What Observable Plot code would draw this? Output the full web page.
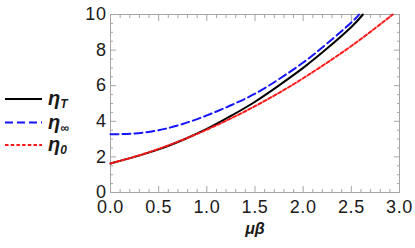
<!DOCTYPE html>
<html><head><meta charset="utf-8">
<script src="https://cdn.jsdelivr.net/npm/d3@7"></script>
<script src="https://cdn.jsdelivr.net/npm/@observablehq/plot@0.6"></script>
<style>
body{margin:0;background:#fff;}
#wrap{position:relative;width:415px;height:248px;overflow:hidden;font-family:"Liberation Sans",Arial,sans-serif;}
#wrap svg{display:block;}
#wrap svg g[aria-label$="axis tick label"] text{letter-spacing:0.6px;}
#legend{position:absolute;left:0;top:0;}
</style></head><body><div id="wrap"></div>
<script>
// series names and styles
const seriesNames = ["ηT", "η∞", "η0"];
const seriesSubs = ["T", "∞", "0"];
const seriesColors = ["#000000", "#1414ff", "#ff1a1a"];
const seriesDash = [null, "8,4", "3.5,2.2"];

// η_T (black, solid)
const muT  = [0, 0.25, 0.5, 0.75, 1.0, 1.25, 1.5, 1.75, 2.0, 2.25, 2.5, 2.62];
const etaT = [1.63, 2.0, 2.42, 2.95, 3.57, 4.3, 5.1, 6.02, 7.0, 8.1, 9.3, 10.0];
// η_∞ (blue, dashed)
const muInf  = [0, 0.25, 0.5, 0.75, 1.0, 1.25, 1.5, 1.75, 2.0, 2.25, 2.5, 2.58];
const etaInf = [3.27, 3.32, 3.5, 3.85, 4.33, 4.9, 5.55, 6.37, 7.3, 8.38, 9.55, 10.0];
// η_0 (red, short dashes)
const mu0  = [0, 0.25, 0.5, 0.75, 1.0, 1.25, 1.5, 1.75, 2.0, 2.25, 2.5, 2.75, 2.93];
const eta0 = [1.63, 2.01, 2.45, 2.96, 3.53, 4.16, 4.85, 5.6, 6.42, 7.3, 8.23, 9.24, 10.0];

// ticks
const xMajor = [0, 0.5, 1.0, 1.5, 2.0, 2.5, 3.0];
const xMinor = [0.1,0.2,0.3,0.4,0.6,0.7,0.8,0.9,1.1,1.2,1.3,1.4,1.6,1.7,1.8,1.9,2.1,2.2,2.3,2.4,2.6,2.7,2.8,2.9];
const yMajor = [0, 2, 4, 6, 8, 10];
const yMinor = [0.5,1,1.5,2.5,3,3.5,4.5,5,5.5,6.5,7,7.5,8.5,9,9.5];
const xLabel = "μβ";

const mus = [muT, muInf, mu0];
const etas = [etaT, etaInf, eta0];

const tickColor = "#a6a6a6";
const blank = () => "";

const lineMarks = mus.map((m, s) => Plot.line(
  m.map((x, i) => ({mu: x, eta: etas[s][i]})),
  {x: "mu", y: "eta", stroke: seriesColors[s], strokeWidth: 2,
   strokeDasharray: seriesDash[s], curve: "natural"}));

const chart = Plot.plot({
  width: 415, height: 248,
  marginLeft: 110, marginRight: 16, marginTop: 14, marginBottom: 56,
  style: {fontFamily: "Liberation Sans, Arial, sans-serif", background: "transparent"},
  x: {domain: [0, 3]},
  y: {domain: [0, 10]},
  marks: [
    Plot.frame({stroke: tickColor}),
    Plot.axisX(xMajor, {anchor: "bottom", tickSize: -6, stroke: tickColor, tickFormat: blank, label: null}),
    Plot.axisX(xMinor, {anchor: "bottom", tickSize: -3, stroke: tickColor, tickFormat: blank, label: null}),
    Plot.axisX(xMajor, {anchor: "top", tickSize: -6, stroke: tickColor, tickFormat: blank, label: null}),
    Plot.axisX(xMinor, {anchor: "top", tickSize: -3, stroke: tickColor, tickFormat: blank, label: null}),
    Plot.axisY(yMajor, {anchor: "left", tickSize: -6, stroke: tickColor, tickFormat: blank, label: null}),
    Plot.axisY(yMinor, {anchor: "left", tickSize: -3, stroke: tickColor, tickFormat: blank, label: null}),
    Plot.axisY(yMajor, {anchor: "right", tickSize: -6, stroke: tickColor, tickFormat: blank, label: null}),
    Plot.axisY(yMinor, {anchor: "right", tickSize: -3, stroke: tickColor, tickFormat: blank, label: null}),
    Plot.axisX(xMajor, {anchor: "bottom", tickSize: 0, tickPadding: 8, fontSize: 18, fill: "#1a1a1a",
      tickFormat: d => d.toFixed(1), label: null}),
    Plot.axisY(yMajor, {anchor: "left", tickSize: 0, tickPadding: 4, fontSize: 18, fill: "#1a1a1a",
      tickFormat: d => String(d), label: null}),
    ...lineMarks,
    Plot.text([xLabel], {frameAnchor: "bottom", dy: 41, text: d => d, fontSize: 16,
      fontWeight: "bold", fontStyle: "italic", fill: "#1a1a1a"})
  ]
});
document.getElementById("wrap").appendChild(chart);

// legend overlay (left side)
const leg = d3.select("#wrap").append("svg").attr("id", "legend")
  .attr("width", 110).attr("height", 248);
const rowY = [99, 122.5, 145];
seriesNames.forEach((name, s) => {
  const g = leg.append("g").attr("transform", `translate(0,${rowY[s]})`);
  g.append("line").attr("x1", 5).attr("x2", 42).attr("y1", 0).attr("y2", 0)
    .attr("stroke", seriesColors[s]).attr("stroke-width", 2)
    .attr("stroke-dasharray", seriesDash[s]);
  const t = g.append("text").attr("x", 48).attr("y", 6)
    .attr("font-family", "Liberation Sans, Arial, sans-serif")
    .attr("font-weight", "bold").attr("font-style", "italic")
    .attr("font-size", 20).attr("fill", "#1a1a1a");
  t.append("tspan").text("η");
  t.append("tspan").attr("font-size", 12).attr("dy", 3).text(seriesSubs[s]);
});
</script>
</body></html>
